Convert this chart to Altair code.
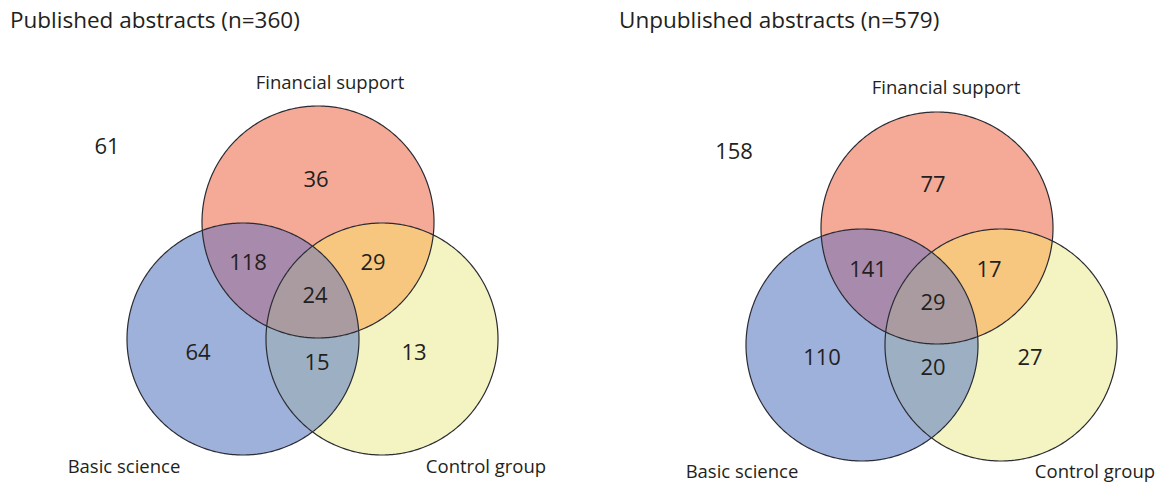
import math
import altair as alt
import pandas as pd

# ---------------- data ----------------
panel_titles = ["Published abstracts (n=360)", "Unpublished abstracts (n=579)"]
set_labels = ["Financial support", "Basic science", "Control group"]
region_names = ["F", "B", "C", "FB", "FC", "BC", "FBC", "none"]
published_counts = [36, 64, 13, 118, 29, 15, 24, 61]
unpublished_counts = [77, 110, 27, 141, 17, 20, 29, 158]
panel_counts = [published_counts, unpublished_counts]

# ---------------- styles ----------------
region_colors = {"F": "#F4AA97", "B": "#9EB1DB", "C": "#F4F4C3", "FB": "#A88AAC",
                 "FC": "#F7C77F", "BC": "#9DB0C3", "FBC": "#A99BA0"}
region_patterns = {"F": (1, 0, 0), "B": (0, 1, 0), "C": (0, 0, 1), "FB": (1, 1, 0),
                   "FC": (1, 0, 1), "BC": (0, 1, 1), "FBC": (1, 1, 1)}
TEXT = "#231F20"
LINE = "#2B2B33"
FONT = "Open Sans"

# ---------------- layout (page pixels) ----------------
RADIUS = 116
SETS = ["F", "B", "C"]
panel_centers = [
    {"F": (318, 222), "B": (243, 339), "C": (382, 339)},
    {"F": (937, 228), "B": (862, 345), "C": (1001, 345)},
]
count_pos = [
    {"F": (316, 180), "B": (198, 353), "C": (414, 353), "FB": (248, 263), "FC": (373, 263),
     "BC": (317, 363), "FBC": (315, 296), "none": (107, 147)},
    {"F": (933, 185), "B": (822, 358), "C": (1030, 358), "FB": (868, 270), "FC": (989, 270),
     "BC": (933, 368), "FBC": (933, 303), "none": (734, 152)},
]
title_pos = [(10, 28), (619, 28)]
label_pos = [
    [(330, 89), (124, 473), (486, 473)],
    [(946, 94), (742, 478), (1095, 478)],
]

CHART_W, CHART_H = 1147, 476


def _inside(p, c):
    return (p[0] - c[0]) ** 2 + (p[1] - c[1]) ** 2 < RADIUS ** 2


def _crossings(c1, c2):
    dx, dy = c2[0] - c1[0], c2[1] - c1[1]
    d = math.hypot(dx, dy)
    h = math.sqrt(RADIUS ** 2 - (d / 2) ** 2)
    mx, my = c1[0] + dx / 2, c1[1] + dy / 2
    return [(mx - h * dy / d, my + h * dx / d), (mx + h * dy / d, my - h * dx / d)]


def region_outline(centers, pattern, steps=72):
    arcs = []
    for i, s in enumerate(SETS):
        c = centers[s]
        pts = []
        for t in SETS:
            if t != s:
                pts += _crossings(c, centers[t])
        angs = sorted(math.atan2(p[1] - c[1], p[0] - c[0]) for p in pts)
        n = len(angs)
        for k in range(n):
            a0 = angs[k]
            a1 = angs[(k + 1) % n] + (2 * math.pi if k == n - 1 else 0)
            am = (a0 + a1) / 2
            mid = (c[0] + RADIUS * math.cos(am), c[1] + RADIUS * math.sin(am))
            ok = all(_inside(mid, centers[t]) == bool(pattern[j])
                     for j, t in enumerate(SETS) if t != s)
            if ok:
                arcs.append([(c[0] + RADIUS * math.cos(a0 + (a1 - a0) * q / steps),
                              c[1] + RADIUS * math.sin(a0 + (a1 - a0) * q / steps))
                             for q in range(steps + 1)])
    loop = arcs.pop(0)
    while arcs:
        end = loop[-1]
        best = None
        for idx, arc in enumerate(arcs):
            for rev in (False, True):
                st = arc[-1] if rev else arc[0]
                dd = math.hypot(st[0] - end[0], st[1] - end[1])
                if best is None or dd < best[0]:
                    best = (dd, idx, rev)
        _, idx, rev = best
        arc = arcs.pop(idx)
        if rev:
            arc = arc[::-1]
        loop += arc[1:]
    return loop


def to_path(points, anchor):
    ax, ay = anchor
    s = "M" + "L".join(f"{x - ax:.2f},{y - ay:.2f}" for x, y in points)
    return s + "Z"


def circle_points(c, steps=360):
    return [(c[0] + RADIUS * math.cos(2 * math.pi * q / steps),
             c[1] + RADIUS * math.sin(2 * math.pi * q / steps)) for q in range(steps)]


region_rows, outline_rows, count_rows, title_rows, label_rows = [], [], [], [], []
for p in range(2):
    centers = panel_centers[p]
    anchor = centers["F"]
    for r in ["F", "B", "C", "FB", "FC", "BC", "FBC"]:
        region_rows.append({"x": anchor[0], "y": anchor[1],
                            "path": to_path(region_outline(centers, region_patterns[r]), anchor),
                            "col": region_colors[r]})
    for s in SETS:
        outline_rows.append({"x": anchor[0], "y": anchor[1],
                             "path": to_path(circle_points(centers[s]), anchor)})
    for name, val in zip(region_names, panel_counts[p]):
        x, y = count_pos[p][name]
        count_rows.append({"x": x, "y": y, "t": str(val)})
    title_rows.append({"x": title_pos[p][0], "y": title_pos[p][1], "t": panel_titles[p]})
    for lab, (x, y) in zip(set_labels, label_pos[p]):
        label_rows.append({"x": x, "y": y, "t": lab})

X = alt.X("x:Q", scale=alt.Scale(domain=[8, 8 + CHART_W], nice=False, zero=False), axis=None)
Y = alt.Y("y:Q", scale=alt.Scale(domain=[8, 8 + CHART_H], nice=False, zero=False, reverse=True),
          axis=None)

regions = alt.Chart(pd.DataFrame(region_rows)).mark_point(
    filled=True, size=4, opacity=1, strokeWidth=0
).encode(x=X, y=Y, shape=alt.Shape("path:N", scale=None, legend=None),
         color=alt.Color("col:N", scale=None, legend=None))

outlines = alt.Chart(pd.DataFrame(outline_rows)).mark_point(
    filled=False, size=4, opacity=1, strokeWidth=1.2, color=LINE
).encode(x=X, y=Y, shape=alt.Shape("path:N", scale=None, legend=None))

counts = alt.Chart(pd.DataFrame(count_rows)).mark_text(
    font=FONT, fontSize=22, color=TEXT, align="center", baseline="middle"
).encode(x=X, y=Y, text="t:N")

titles = alt.Chart(pd.DataFrame(title_rows)).mark_text(
    font=FONT, fontSize=22.5, color=TEXT, align="left", baseline="alphabetic"
).encode(x=X, y=Y, text="t:N")

labels = alt.Chart(pd.DataFrame(label_rows)).mark_text(
    font=FONT, fontSize=18.5, color=TEXT, align="center", baseline="alphabetic"
).encode(x=X, y=Y, text="t:N")

chart = alt.layer(regions, outlines, counts, titles, labels).properties(
    width=CHART_W, height=CHART_H, padding=0, autosize=alt.AutoSizeParams(type="none")
).configure_view(stroke=None)

chart.save("out.html", embed_options={"renderer": "svg", "actions": False})
